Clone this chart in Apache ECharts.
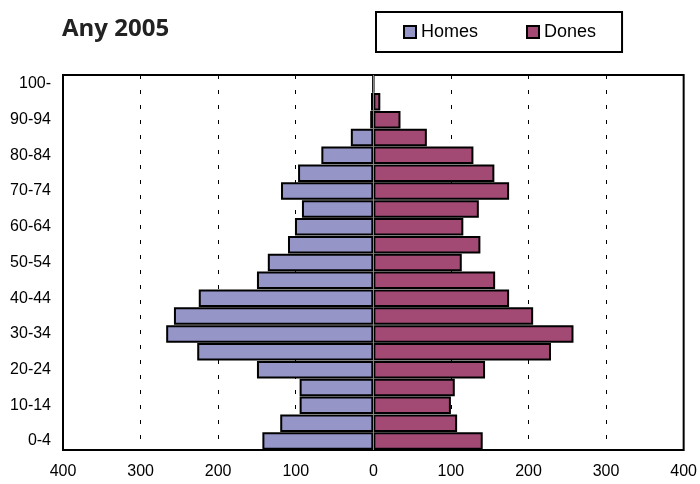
<!DOCTYPE html>
<html>
<head>
<meta charset="utf-8">
<script src="https://cdn.jsdelivr.net/npm/echarts@6/dist/echarts.min.js"></script>
<style>
  html, body { margin: 0; padding: 0; background: #fff; }
  #chart { width: 700px; height: 484px; }
</style>
</head>
<body>
<div id="chart"></div>
<script>
var ageGroups = ['0-4', '5-9', '10-14', '15-19', '20-24', '25-29', '30-34', '35-39', '40-44', '45-49',
  '50-54', '55-59', '60-64', '65-69', '70-74', '75-79', '80-84', '85-89', '90-94', '95-99', '100-']
var homes = [143, 120, 95, 95, 150, 227, 267, 257, 225, 150, 136, 110, 101, 92, 119, 97, 67, 29, 4, 3, 0]
var dones = [141, 108, 100, 105, 144, 229, 258, 206, 175, 157, 114, 138, 116, 136, 175, 156, 129, 69, 35, 9, 0]
var xTicks = [-400, 400, 100]

var chart = echarts.init(document.getElementById('chart'))

// dashed grid lines, but none at 0 (the zero line is drawn grey below)
var gridColors = ['#000', '#000', '#000', '#000', 'rgba(0,0,0,0)', '#000', '#000', '#000', '#000']

var option = {
  animation: false,
  title: {
    text: 'Any 2005',
    left: 57,
    top: 12,
    textStyle: { fontFamily: 'Open Sans', fontWeight: 'bold', fontSize: 24, color: '#222' }
  },
  legend: {
    data: ['Homes', 'Dones'],
    left: 376,
    top: 12,
    padding: [11, 26, 11, 27],
    itemWidth: 12,
    itemHeight: 12,
    itemGap: 48,
    icon: 'rect',
    borderColor: '#000',
    borderWidth: 2,
    textStyle: { fontFamily: 'Liberation Sans', fontSize: 18, color: '#000' }
  },
  grid: {
    left: 63,
    right: 13,
    top: 75,
    bottom: 34,
    show: true,
    borderColor: '#000',
    borderWidth: 2
  },
  xAxis: {
    type: 'value',
    min: xTicks[0],
    max: xTicks[1],
    interval: xTicks[2],
    axisLine: { show: false },
    axisTick: { show: false },
    axisLabel: {
      margin: 14,
      fontFamily: 'Liberation Sans',
      fontSize: 16,
      color: '#000',
      formatter: function(v) { return Math.abs(v) }
    },
    splitLine: {
      show: true,
      lineStyle: { color: gridColors, type: [4, 11], width: 1 }
    }
  },
  yAxis: {
    type: 'category',
    data: ageGroups,
    axisLine: { show: false },
    axisTick: { show: false },
    axisLabel: {
      interval: 1,
      margin: 12,
      fontFamily: 'Liberation Sans',
      fontSize: 16,
      color: '#000'
    }
  },
  series: [
    {
      name: 'Homes',
      type: 'bar',
      data: homes.map(function(v) { return -v }),
      barGap: '-100%',
      barCategoryGap: '2%',
      z: 3,
      itemStyle: { color: '#9595C8', borderColor: '#000', borderWidth: 2 }
    },
    {
      name: 'Dones',
      type: 'bar',
      data: dones,
      barGap: '-100%',
      barCategoryGap: '2%',
      z: 3,
      itemStyle: { color: '#A34A74', borderColor: '#000', borderWidth: 2 }
    },
    {
      name: 'zero',
      type: 'line',
      data: [],
      z: 1,
      silent: true,
      markLine: {
        silent: true,
        symbol: ['none', 'none'],
        label: { show: false },
        lineStyle: { color: '#888', type: 'solid', width: 1 },
        data: [{ xAxis: 0 }]
      }
    }
  ]
}

chart.setOption(option)
</script>
</body>
</html>
